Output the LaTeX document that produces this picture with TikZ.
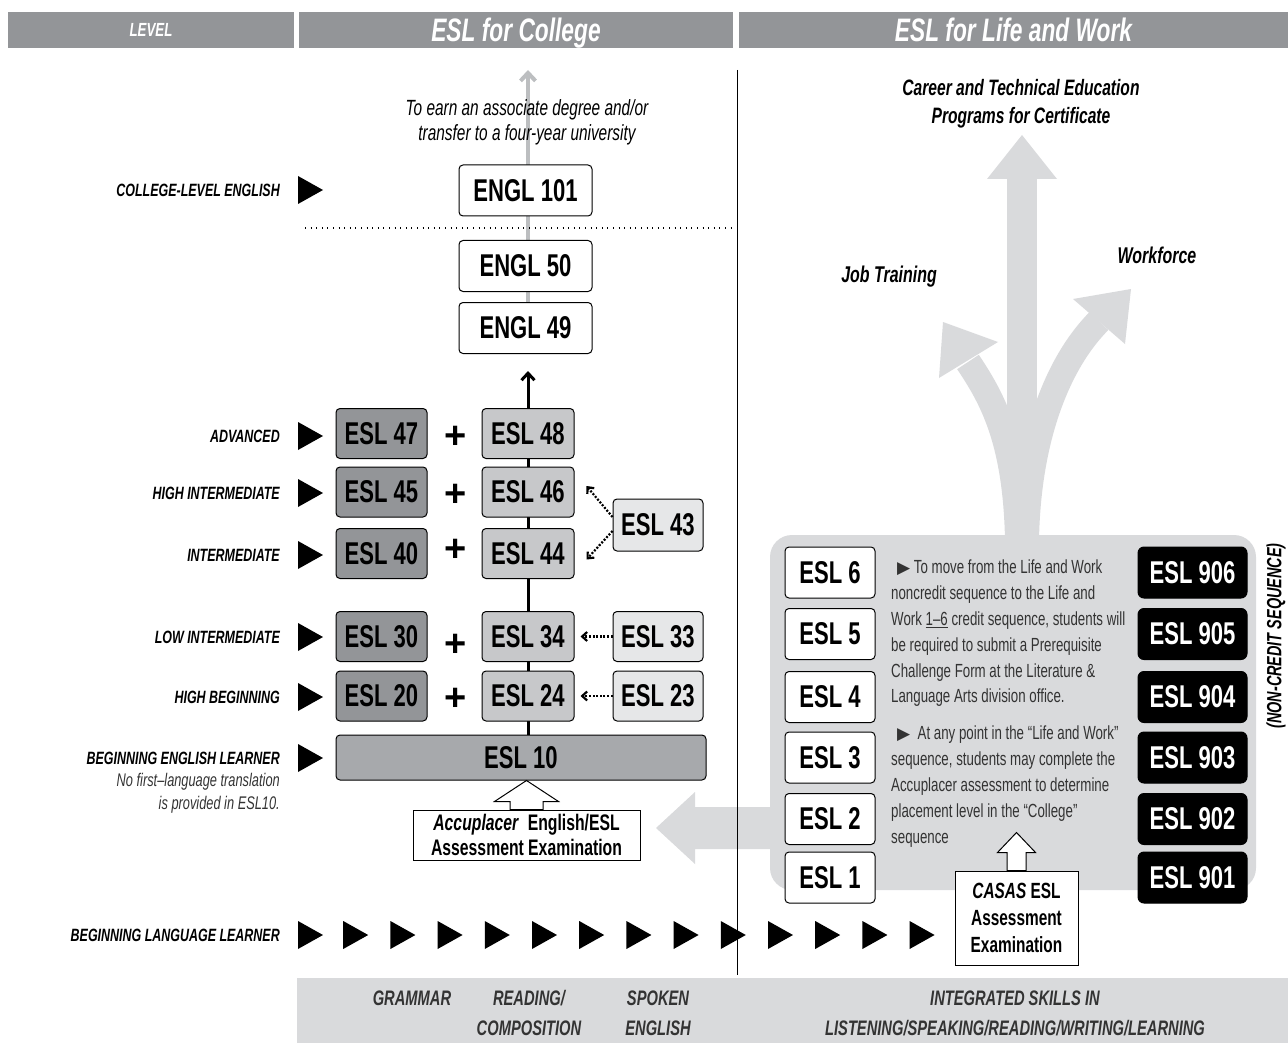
\documentclass[tikz,border=0pt]{standalone}
\usepackage{fontspec}
\setmainfont{Liberation Sans}[FakeStretch=0.7]
\newfontfamily\plusfont{Liberation Sans}
\newfontfamily\trifont{DejaVu Sans}
\usetikzlibrary{arrows.meta,calc,backgrounds}
\definecolor{bandgray}{RGB}{147,149,152}
\definecolor{darkbox}{RGB}{147,149,152}
\definecolor{midbox}{RGB}{199,200,202}
\definecolor{lightbox}{RGB}{230,231,232}
\definecolor{tenbox}{RGB}{167,169,172}
\definecolor{panelgray}{RGB}{217,218,220}
\definecolor{linegray}{RGB}{188,190,192}
\newcommand\fsz[1]{\fontsize{#1}{#1}\selectfont}
\tikzset{
  band/.style={fill=bandgray, text=white, inner sep=0, minimum height=36,
    text depth=0pt, font=\fsz{32.5}\bfseries\itshape},
  course/.style={draw, line width=1, rounded corners=4, inner sep=0,
    minimum width=92, minimum height=50, font=\fsz{31.5}\bfseries},
  darkcourse/.style={course, fill=darkbox, minimum width=91},
  midcourse/.style={course, fill=midbox},
  sidecourse/.style={course, fill=lightbox, minimum width=90},
  englbox/.style={course, fill=white, minimum width=133, minimum height=51},
  lwbox/.style={course, fill=white, minimum width=90, minimum height=51},
  ncbox/.style={course, fill=black, text=white, minimum width=109,
    minimum height=51, rounded corners=6},
  lvl/.style={anchor=east, inner sep=0, font=\fsz{17.8}\bfseries\itshape},
  plus/.style={inner sep=0, font=\plusfont\fsz{38}\bfseries},
  dotarrow/.style={line width=2.2, dash pattern=on 2pt off 1.6pt,
    -{Straight Barb[length=5pt,width=9pt]}},
  exambox/.style={draw, fill=white, line width=1, inner sep=0, align=center},
  skill/.style={align=center, inner sep=0, text=black!80,
    font=\fontsize{21}{30}\selectfont\bfseries\itshape},
  goal/.style={align=center, inner sep=0, font=\fsz{22.8}\bfseries\itshape},
  note/.style={align=left, inner sep=0, anchor=north west, text=black!80,
    font=\fontsize{19}{25.8}\selectfont},
  marker/.style={fill=black}
}
\begin{document}
\begin{tikzpicture}[x=1pt,y=-1pt]
  \useasboundingbox (0,0) rectangle (1288,1043);
  % header
  \node[band, minimum width=286, font=\fsz{19}\bfseries\itshape] (hlevel)
  at (151,30) {LEVEL};
  \node[band, minimum width=434] (hcollege) at (516,30) {ESL for College};
  \node[band, minimum width=549] (hlife) at (1013.5,30) {ESL for Life and Work};
  \node[band, fill=panelgray, minimum width=991, minimum height=65] (footband)
  at (792.5,1010.5) {};

  % life and work panel and arrows
  \fill[panelgray] (1007,540) rectangle (1037,178);
  \fill[panelgray] (987,179) -- (1022,135) -- (1057,179) -- cycle;
  \draw[panelgray, line width=26] (1018,540) .. controls (1016,440) and
  (992,398) .. (968,362);
  \fill[panelgray] (939,378) -- (943,322) -- (998,342) -- cycle;
  \draw[panelgray, line width=26] (1026,540) .. controls (1028,430) and
  (1062,358) .. (1099,321);
  \fill[panelgray] (1073,299) -- (1131,289) -- (1125,344) -- cycle;
  \fill[panelgray, rounded corners=22] (770,535) rectangle (1256,890);
  \fill[panelgray] (785,807) -- (695,807) -- (695,792) -- (656,828) --
  (695,864) -- (695,849) -- (785,849) -- cycle;
  \draw[line width=1] (737,70) -- (737,975);
  \draw[line width=1.2, dash pattern=on 1pt off 4.6pt] (305,228) -- (735,228);

  % college column
  \node[englbox] (engl101) at (525.5,190.5) {ENGL 101};
  \node[englbox] (engl50) at (525.5,266) {ENGL 50};
  \node[englbox] (engl49) at (525.5,328) {ENGL 49};
  \foreach \a/\b/\y in {47/48/433.5, 45/46/492, 40/44/553.5, 30/34/636.5,
    20/24/696} {
    \node[darkcourse] (esl\a) at (381.5,\y) {ESL \a};
    \node[midcourse] (esl\b) at (528,\y) {ESL \b};
  }
  \node[sidecourse, minimum height=52] (esl43) at (658,525) {ESL 43};
  \node[sidecourse] (esl33) at (658,636.5) {ESL 33};
  \node[sidecourse] (esl23) at (658,696) {ESL 23};
  \node[course, fill=tenbox, minimum width=370, minimum height=45] (esl10)
  at (521,757.5) {ESL 10};
  \foreach \y in {437,495,550,645,699}
    \node[plus] at (456,\y) {+};

  \draw[dotarrow] ($(esl43.west)+(0,-8)$) -- ($(esl46.east)+(12,-6)$);
  \draw[dotarrow] ($(esl43.west)+(0,6)$) -- ($(esl44.east)+(12,6)$);
  \draw[dotarrow] (esl33.west) -- ($(esl34.east)+(6,0)$);
  \draw[dotarrow] (esl23.west) -- ($(esl24.east)+(6,0)$);

  \coordinate (degree) at (528,70);
  \coordinate (spinetop) at (528,371);
  \begin{scope}[on background layer]
    \draw[linegray, line width=4, -{Straight Barb[length=8pt,width=15pt]}]
    (engl49.north -| degree) -- (degree);
    \draw[line width=3, -{Straight Barb[length=7pt,width=13pt]}]
    (esl10.north -| spinetop) -- (spinetop);
  \end{scope}

  \node[goal, font=\fontsize{22}{25}\selectfont\itshape] (degreetext)
  at (527,122) {To earn an associate degree and/or\\transfer to a four-year
    university};

  \node[exambox, minimum width=227, minimum height=50,
  font=\fontsize{22.5}{25}\selectfont\bfseries] (acc) at (526.5,835)
  {\textit{Accuplacer}\ \ English/ESL\\Assessment Examination};
  \coordinate (acctip) at (acc.north |- esl10.south);
  \draw[line width=1, fill=white] ($(acctip)+(-32,21)$) -- (acctip) --
  ($(acctip)+(32,21)$) -- ($(acctip)+(16.5,21)$) -- ($(acc.north)+(16.5,0)$)
  -- ($(acc.north)+(-16.5,0)$) -- ($(acctip)+(-16.5,21)$) -- cycle;

  % levels
  \foreach \nm/\y/\t in {college/190/COLLEGE-LEVEL ENGLISH, adv/436/ADVANCED,
    highint/493/HIGH INTERMEDIATE, int/555/INTERMEDIATE,
    lowint/637/LOW INTERMEDIATE, highbeg/697/HIGH BEGINNING,
    begeng/758/BEGINNING ENGLISH LEARNER, beglang/935/BEGINNING LANGUAGE LEARNER} {
    \node[lvl] (lvl\nm) at (280,\y) {\t};
    \fill[marker] (298,\y) ++(0,-14) -- ++(25,14) -- ++(-25,14) -- cycle;
  }
  \node[lvl, align=right, font=\fontsize{18.3}{23}\selectfont\itshape,
  text=black!80, anchor=north east] (nofirst) at (280,773)
  {No first–language translation\\is provided in ESL10.};
  \foreach \k in {1,...,13}
    \fill[marker] (296+47.2*\k,935) ++(0,-14) -- ++(25,14) -- ++(-25,14) -- cycle;

  % life and work courses
  \foreach \n/\y in {6/572.5, 5/634, 4/697, 3/757.5, 2/819, 1/877.5} {
    \node[lwbox] (lw\n) at (830,\y) {ESL \n};
    \node[ncbox] (nc\n) at (1192.5,\y) {ESL 90\n};
  }
  \node[note] (movenote) at (891,560)
  {\hspace*{6pt}{\trifont\fsz{17}▶}\ To move from the Life and Work\\
    noncredit sequence to the Life and\\
    Work \underline{1–6} credit sequence, students will\\
    be required to submit a Prerequisite\\
    Challenge Form at the Literature \&\\
    Language Arts division office.};
  \node[note] (casasnote) at (891,726)
  {\hspace*{6pt}{\trifont\fsz{17}▶}\ \ At any point in the “Life and Work”\\
    sequence, students may complete the\\
    Accuplacer assessment to determine\\
    placement level in the “College”\\
    sequence};
  \node[exambox, minimum width=123, minimum height=94,
  font=\fontsize{22}{27}\selectfont\bfseries] (casas) at (1016.5,918)
  {\textit{CASAS} ESL\\Assessment\\Examination};
  \coordinate (casastip) at ($(casas.north)+(0,-38)$);
  \draw[line width=1, fill=white] ($(casastip)+(-19,20)$) -- (casastip) --
  ($(casastip)+(19,20)$) -- ($(casastip)+(9.5,20)$) -- ($(casas.north)+(9.5,0)$)
  -- ($(casas.north)+(-9.5,0)$) -- ($(casastip)+(-9.5,20)$) -- cycle;

  \node[goal, font=\fontsize{22.3}{28}\selectfont\bfseries\itshape] (career)
  at (1021,104) {Career and Technical Education\\Programs for Certificate};
  \node[goal] (jobtraining) at (889,277) {Job Training};
  \node[goal] (workforce) at (1157,255) {Workforce};
  \node[goal, rotate=90, font=\fsz{20.6}\bfseries\itshape] (noncredit)
  at (1276,636) {(NON-CREDIT SEQUENCE)};

  % skills
  \node[skill] (grammar) at (412,998) {GRAMMAR};
  \node[skill] (readcomp) at (529,1013) {READING/\\COMPOSITION};
  \node[skill] (spoken) at (658,1013) {SPOKEN\\ENGLISH};
  \node[skill] (integrated) at (1015,1013)
  {INTEGRATED SKILLS IN\\LISTENING/SPEAKING/READING/WRITING/LEARNING};
\end{tikzpicture}
\end{document}
